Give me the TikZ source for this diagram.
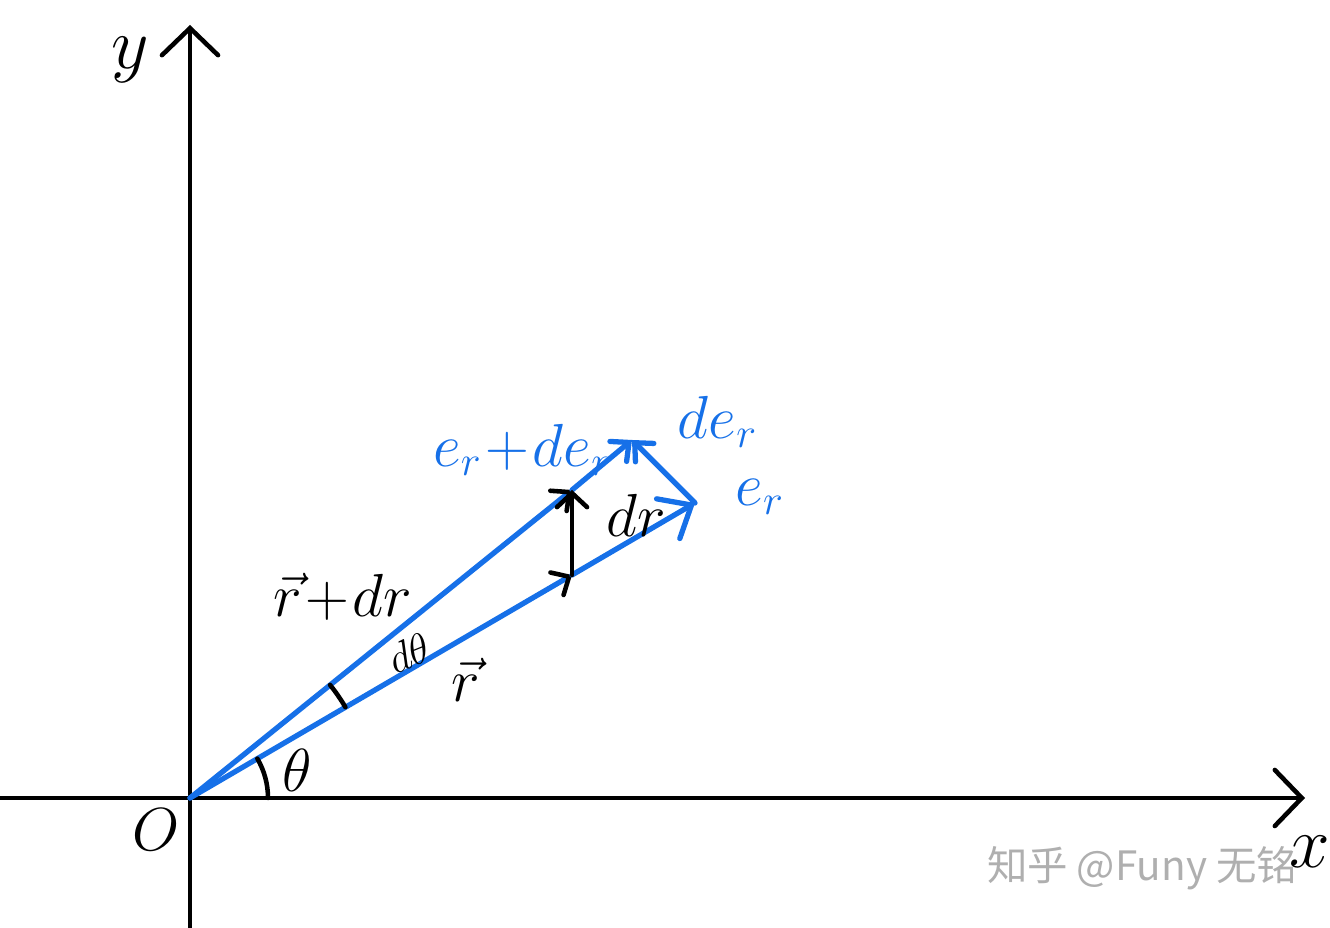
\documentclass[tikz,border=0pt]{standalone}
\usepackage{fontspec}
\newfontfamily\cjkfont{Noto Sans CJK SC}
\usetikzlibrary{arrows.meta,calc}
\definecolor{penblue}{RGB}{22,112,232}
\definecolor{wmgray}{RGB}{175,175,175}
\tikzset{
  axisline/.style={line width=1.3pt, line cap=round},
  axistip/.style={-{Straight Barb[length=0.27cm,width=0.56cm,line cap=round]}},
  vecline/.style={penblue, line width=1.5pt, line cap=round},
  bluetip/.style={-{Straight Barb[length=0.27cm,width=0.46cm,line cap=round]}},
  smalltip/.style={-{Straight Barb[length=0.14cm,width=0.26cm,line cap=round]}},
  blacktip/.style={-{Straight Barb[length=0.14cm,width=0.26cm,color=black,line width=1.3pt,line cap=round]}},
  arcline/.style={line width=1.3pt, line cap=round},
  lbl/.style={inner sep=0pt, font=\fontsize{17}{20}\selectfont},
  blbl/.style={lbl, text=penblue},
}
\begin{document}
\begin{tikzpicture}[x=0.01cm,y=0.01cm]
\useasboundingbox (0,0) rectangle (1330,928);
% watermark
\node[inner sep=0pt, text=wmgray, font=\cjkfont\fontsize{11.5}{14}\selectfont] (wm) at (1142,60) {知乎 @Funy 无铭};
% coordinates
\coordinate (O) at (190,130);
\coordinate (Ytop) at (190,903);
\coordinate (Ybot) at (190,0);
\coordinate (Xleft) at (0,130);
\coordinate (Xright) at (1305,130);
\coordinate (P) at (572,353);
\coordinate (A) at (572,438);
\coordinate (Er) at (695,425);
\coordinate (B) at (632,488);
% axes
\draw[axisline, axistip] (Ybot) -- (Ytop);
\draw[axisline, axistip] (Xleft) -- (Xright);
% vectors
\draw[vecline, blacktip] (O) -- (P);
\draw[vecline, bluetip] (P) -- (Er);
\draw[vecline, blacktip] (O) -- (A);
\draw[vecline, smalltip] (A) -- (B);
\draw[vecline, smalltip] (Er) -- (B);
\draw[axisline, -{Straight Barb[length=0.14cm,width=0.3cm,line cap=round]}] (P) -- (A);
% angle arcs
\draw[arcline] (268,130) arc[start angle=0, end angle=30.3, radius=78];
\draw[arcline] ($(O)+(30.3:180)$) arc[start angle=30.3, end angle=38.9, radius=180];
% labels
\node[lbl, font=\fontsize{22}{26}\selectfont] (ly) at (130,868) {$y$};
\node[lbl, font=\fontsize{22}{26}\selectfont] (lx) at (1310,76) {$x$};
\node[lbl] (lo) at (156,98) {$O$};
\node[lbl] (lth) at (297,158) {$\theta$};
\node[lbl, font=\fontsize{13}{15}\selectfont, rotate=22] (ldth) at (409,275) {$d\theta$};
\node[lbl] (lr) at (466,248) {$\vec{r}$};
\node[lbl] (lrdr) at (343,331) {$\vec{r}\!+\!dr$};
\node[lbl] (ldr) at (636,413) {$dr$};
\node[blbl] (ler) at (760,431) {$e_r$};
\node[blbl] (lerder) at (523,478) {$e_r\!+\!de_r$};
\node[blbl] (lder) at (718,506) {$de_r$};
\end{tikzpicture}
\end{document}
